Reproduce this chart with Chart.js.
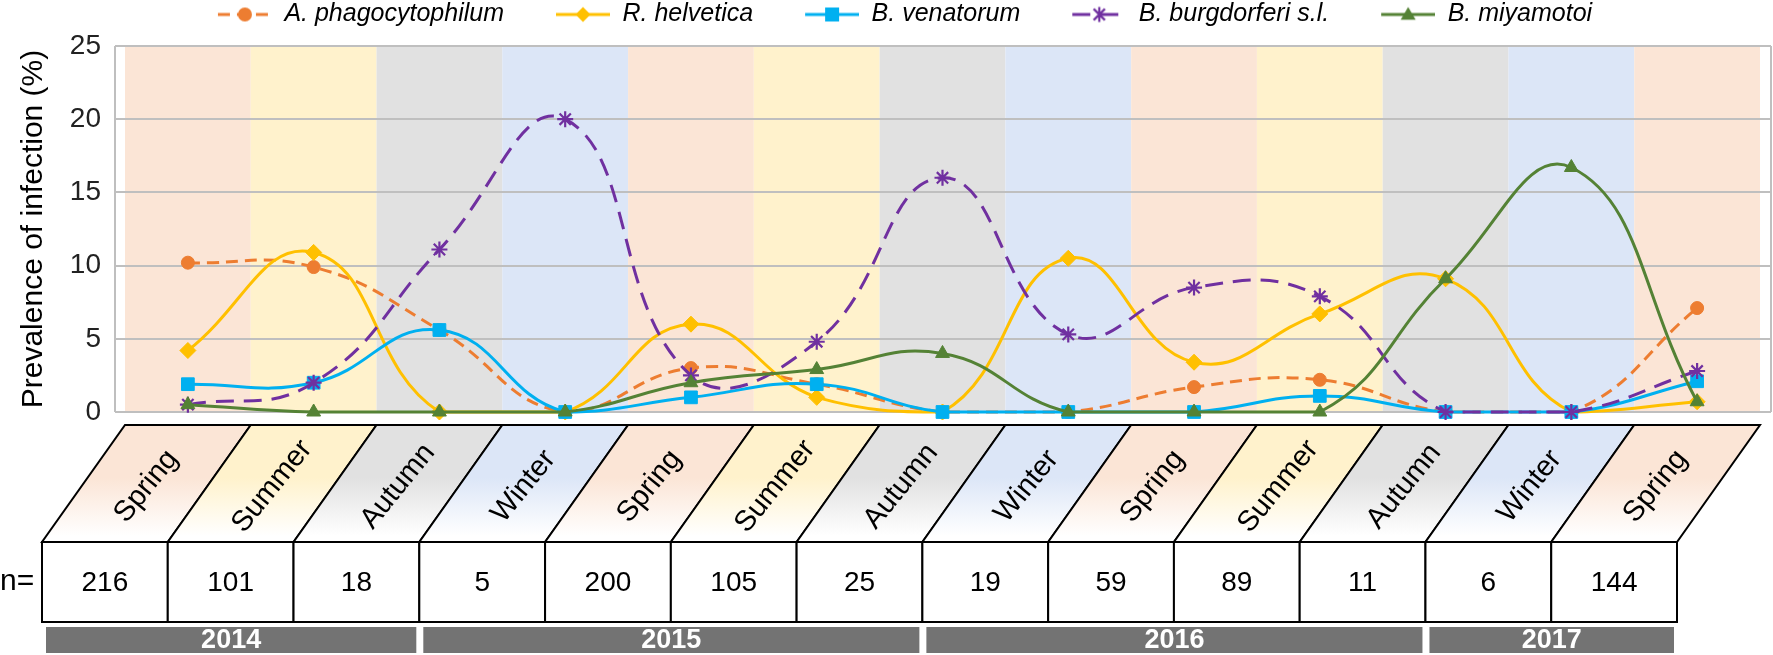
<!DOCTYPE html>
<html>
<head>
<meta charset="utf-8">
<script src="https://cdn.jsdelivr.net/npm/chart.js@4.4.1/dist/chart.umd.min.js"></script>
<style>
  html, body { margin: 0; padding: 0; background: #fff; }
  #wrap { width: 1773px; height: 655px; }
</style>
</head>
<body>
<div id="wrap"><canvas id="chart" width="1773" height="655"></canvas></div>
<script>
/* ── Datos ─────────────────────────────────────────────── */
const seasons = ['Spring', 'Summer', 'Autumn', 'Winter', 'Spring', 'Summer', 'Autumn',
                 'Winter', 'Spring', 'Summer', 'Autumn', 'Winter', 'Spring'];
const sampleSizes = [216, 101, 18, 5, 200, 105, 25, 19, 59, 89, 11, 6, 144];
const years = ['2014', '2015', '2016', '2017'];
const yearSpans = [3, 4, 4, 2];
const yTicks = [0, 5, 10, 15, 20, 25];

const aPhago = [10.2, 9.9, 5.6, 0, 3.0, 1.9, 0, 0, 1.7, 2.2, 0, 0, 7.1];
const rHelv  = [4.2, 10.9, 0, 0, 6.0, 1.0, 0, 10.5, 3.4, 6.7, 9.1, 0, 0.7];
const bVen   = [1.9, 2.0, 5.6, 0, 1.0, 1.9, 0, 0, 0, 1.1, 0, 0, 2.1];
const bBurg  = [0.5, 2.0, 11.1, 20.0, 2.5, 4.8, 16.0, 5.3, 8.5, 7.9, 0, 0, 2.8];
const bMiya  = [0.5, 0, 0, 0, 2.0, 2.9, 4.0, 0, 0, 0, 9.1, 16.7, 0.7];

/* ── Estilos ───────────────────────────────────────────── */
const seasonColors = { Spring: '#fbe5d6', Summer: '#fff2cc', Autumn: '#e1e1e1', Winter: '#dce6f7' };
const FONT = '"Liberation Sans", Arial, sans-serif';

// icono de leyenda: línea + marcador (como en Excel)
function legendIcon(ds) {
  const gap = 50, lw = 54, h = 24;
  const c = document.createElement('canvas');
  c.width = gap + lw; c.height = h;
  const g = c.getContext('2d');
  const cy = h / 2, cx = gap + lw / 2;
  g.strokeStyle = ds.borderColor;
  g.lineWidth = 3;
  g.setLineDash(ds.borderDash || []);
  g.beginPath(); g.moveTo(gap, cy); g.lineTo(gap + lw, cy); g.stroke();
  g.setLineDash([]);
  g.fillStyle = ds.backgroundColor;
  g.beginPath();
  const r = 7.5;
  switch (ds.pointStyle) {
    case 'circle': g.arc(cx, cy, 7, 0, Math.PI * 2); g.fill(); break;
    case 'rectRot': g.moveTo(cx, cy - r); g.lineTo(cx + r, cy); g.lineTo(cx, cy + r); g.lineTo(cx - r, cy); g.closePath(); g.fill(); break;
    case 'rect': g.fillRect(cx - 7, cy - 7, 14, 14); break;
    case 'triangle': g.moveTo(cx, cy - r); g.lineTo(cx + r, cy + r * 0.7); g.lineTo(cx - r, cy + r * 0.7); g.closePath(); g.fill(); break;
    case 'star':
      g.lineWidth = 2.2;
      g.moveTo(cx, cy - r); g.lineTo(cx, cy + r);
      g.moveTo(cx - r * 0.75, cy - r * 0.75); g.lineTo(cx + r * 0.75, cy + r * 0.75);
      g.moveTo(cx + r * 0.75, cy - r * 0.75); g.lineTo(cx - r * 0.75, cy + r * 0.75);
      g.stroke(); break;
  }
  return c;
}

/* ── Plugin: espacio extra bajo la leyenda ─────────────── */
const legendGap = {
  id: 'legendGap',
  beforeUpdate(chart) {
    const lg = chart.legend;
    if (lg && !lg._gapPatched) {
      const fit = lg.fit.bind(lg);
      lg.fit = function () { fit(); this.height += 9; };
      lg._gapPatched = true;
    }
  }
};

/* ── Plugin: franjas de estación, rejilla y marco ───────── */
const bandsPlugin = {
  id: 'bands',
  beforeDraw(chart) {
    const { ctx, chartArea: a, scales: { x, y } } = chart;
    const w = x.getPixelForValue(1) - x.getPixelForValue(0);
    ctx.save();
    seasons.forEach((s, i) => {
      ctx.fillStyle = seasonColors[s];
      ctx.fillRect(x.getPixelForValue(i) - w / 2, a.top, w, a.bottom - a.top);
    });
    const L = a.left - 10, R = a.right + 11;
    ctx.strokeStyle = '#bfbfbf';
    ctx.lineWidth = 2;
    yTicks.forEach(t => {
      const py = Math.round(y.getPixelForValue(t));
      ctx.beginPath(); ctx.moveTo(L, py); ctx.lineTo(R, py); ctx.stroke();
    });
    ctx.beginPath();
    ctx.moveTo(L, a.top); ctx.lineTo(L, a.bottom);
    ctx.moveTo(R, a.top); ctx.lineTo(R, a.bottom);
    ctx.stroke();
    ctx.restore();
  }
};

/* ── Plugin: tabla inferior (estaciones, n=, años) ──────── */
const tablePlugin = {
  id: 'tabla',
  afterDraw(chart) {
    const { ctx, scales: { x } } = chart;
    const w = x.getPixelForValue(1) - x.getPixelForValue(0);
    const top = 425, mid = 542, bot = 622, yrTop = 627, yrBot = 653, skew = 83;
    ctx.save();
    ctx.lineWidth = 2;
    ctx.strokeStyle = '#000';
    seasons.forEach((s, i) => {
      const left = x.getPixelForValue(i) - w / 2;
      const g = ctx.createLinearGradient(0, top, 0, mid);
      g.addColorStop(0, seasonColors[s]);
      g.addColorStop(0.45, seasonColors[s]);
      g.addColorStop(0.95, '#ffffff');
      ctx.fillStyle = g;
      ctx.beginPath();
      ctx.moveTo(left, top); ctx.lineTo(left + w, top);
      ctx.lineTo(left + w - skew, mid); ctx.lineTo(left - skew, mid);
      ctx.closePath(); ctx.fill(); ctx.stroke();

      ctx.save();
      ctx.translate(left + w / 2 - skew / 2, (top + mid) / 2 + 3);
      ctx.rotate(-51 * Math.PI / 180);
      ctx.fillStyle = '#000';
      ctx.font = '29px ' + FONT;
      ctx.textAlign = 'center'; ctx.textBaseline = 'middle';
      ctx.fillText(s, 0, 0);
      ctx.restore();

      ctx.fillStyle = '#fff';
      ctx.fillRect(left - skew, mid, w, bot - mid);
      ctx.strokeRect(left - skew, mid, w, bot - mid);
      ctx.fillStyle = '#000';
      ctx.font = '28px ' + FONT;
      ctx.textAlign = 'center'; ctx.textBaseline = 'middle';
      ctx.fillText(String(sampleSizes[i]), left - skew + w / 2, (mid + bot) / 2 + 1);
    });

    ctx.font = '30px ' + FONT;
    ctx.textAlign = 'left'; ctx.textBaseline = 'middle';
    ctx.fillText('n=', 0, (mid + bot) / 2);

    let k = 0;
    years.forEach((yr, j) => {
      const x0 = x.getPixelForValue(k) - w / 2 - skew + 4;
      const x1 = x.getPixelForValue(k + yearSpans[j] - 1) + w / 2 - skew - 3;
      ctx.fillStyle = '#737373';
      ctx.fillRect(x0, yrTop, x1 - x0, yrBot - yrTop);
      ctx.fillStyle = '#fff';
      ctx.font = 'bold 27px ' + FONT;
      ctx.textAlign = 'center';
      ctx.fillText(yr, (x0 + x1) / 2, (yrTop + yrBot) / 2 + 1);
      k += yearSpans[j];
    });
    ctx.restore();
  }
};

/* ── Series ────────────────────────────────────────────── */
function serie(label, data, color, pointStyle, radius, dash, order) {
  return {
    label, data,
    borderColor: color, backgroundColor: color,
    pointBackgroundColor: color, pointBorderColor: color,
    pointStyle, pointRadius: radius, pointBorderWidth: pointStyle === 'star' ? 2.2 : 1,
    borderWidth: 3, borderDash: dash, tension: 0.45,
    clip: false, order
  };
}

const datasets = [
  serie('A. phagocytophilum', aPhago, '#ED7D31', 'circle', 6.5, [12, 7], 5),
  serie('R. helvetica', rHelv, '#FFC000', 'rectRot', 8, [], 4),
  serie('B. venatorum', bVen, '#00B0F0', 'rect', 9, [], 3),
  serie('B. burgdorferi s.l.', bBurg, '#7030A0', 'star', 8, [18, 10], 2),
  serie('B. miyamotoi', bMiya, '#548235', 'triangle', 8, [], 1)
];

new Chart(document.getElementById('chart'), {
  type: 'line',
  data: { labels: seasons, datasets },
  plugins: [legendGap, bandsPlugin, tablePlugin],
  options: {
    responsive: false,
    animation: false,
    layout: { padding: { left: 0, right: 13, top: 0, bottom: 243 } },
    plugins: {
      tooltip: { enabled: false },
      legend: {
        position: 'top',
        labels: {
          usePointStyle: true,
          pointStyleWidth: 104,
          padding: 2,
          color: '#000',
          font: { family: FONT, size: 25, style: 'italic' },
          generateLabels: (chart) => chart.data.datasets.map((ds, i) => ({
            text: ds.label,
            pointStyle: legendIcon(ds),
            fillStyle: ds.backgroundColor,
            strokeStyle: ds.borderColor,
            lineWidth: 0,
            hidden: false,
            datasetIndex: i,
            fontColor: '#000'
          }))
        }
      }
    },
    scales: {
      x: { type: 'category', offset: true, display: false },
      y: {
        min: 0, max: 25,
        afterFit: (s) => { s.width = 125; },
        afterBuildTicks: (s) => { s.ticks = yTicks.map(v => ({ value: v })); },
        grid: { display: false, drawTicks: false },
        border: { display: false },
        ticks: { padding: 24, color: '#222', font: { family: FONT, size: 28 } },
        title: {
          display: true, text: 'Prevalence of infection (%)', color: '#000',
          font: { family: FONT, size: 30 }, padding: { top: 16, bottom: 0 }
        }
      }
    }
  }
});
</script>
</body>
</html>
